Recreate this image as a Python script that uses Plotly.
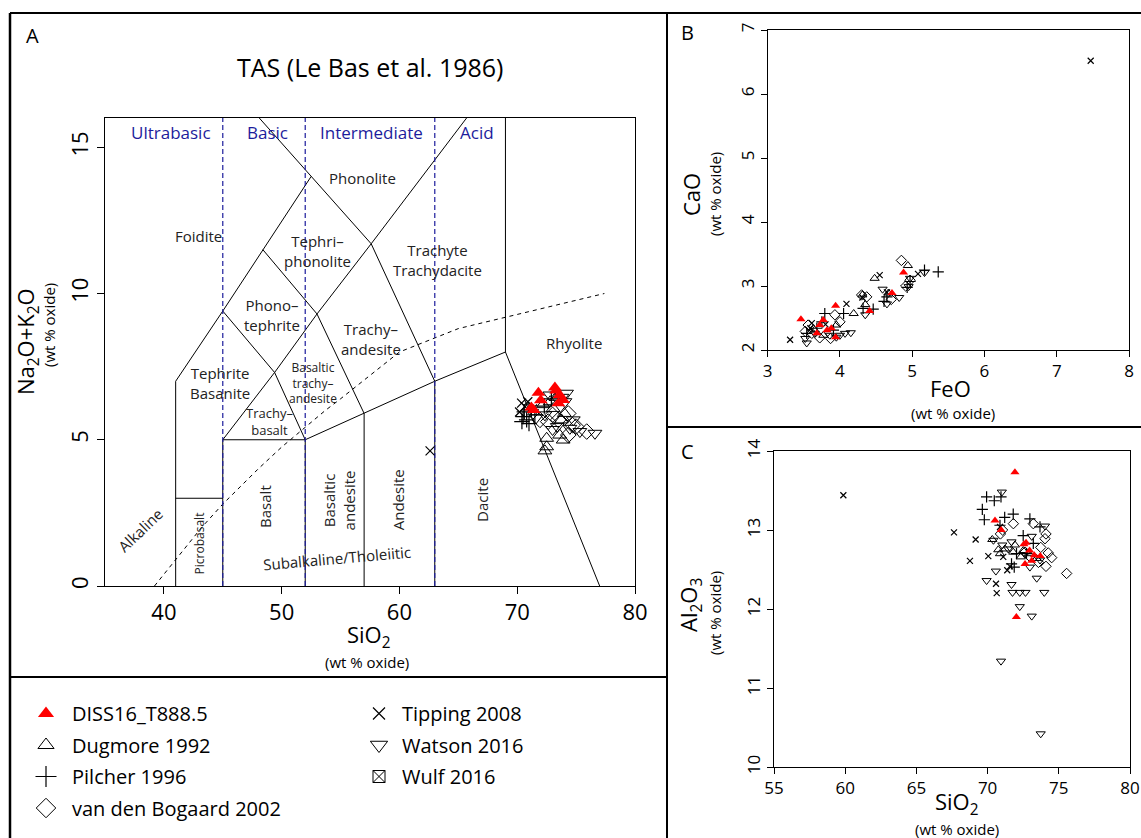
import plotly.graph_objects as go

# ---------------- data ----------------
# Panel A: TAS  (SiO2 vs Na2O+K2O)
diss_tas_si = [71.8, 73.2, 73.3, 73.6, 71.4, 73.9, 73.5, 71.2, 72.0]
diss_tas_alk = [6.61, 6.79, 6.68, 6.53, 6.02, 6.36, 6.25, 6.10, 6.35]
dug_tas_si = [73.6, 72.5, 72.5, 73.9, 72.35, 73.75, 73.05, 72.8, 73.3, 74.0, 72.2]
dug_tas_alk = [5.16, 5.05, 4.76, 4.99, 4.62, 5.68, 6.07, 6.30, 6.45, 5.90, 6.20]
pil_tas_si = [70.5, 70.8, 71.2, 70.6, 71.0, 72.3, 72.9, 71.5, 70.4]
pil_tas_alk = [5.79, 5.68, 6.02, 5.95, 5.55, 6.15, 6.40, 5.85, 5.62]
vdb_tas_si = [75.9, 75.0, 74.33, 72.63, 71.93, 73.48, 74.33, 73.0, 74.7]
vdb_tas_alk = [5.28, 5.45, 5.16, 5.62, 5.68, 5.68, 5.90, 5.85, 5.50]
tip_tas_si = [70.37, 70.65, 70.2, 70.9, 71.3, 62.6]
tip_tas_alk = [6.25, 6.13, 5.95, 6.30, 6.05, 4.62]
wat_tas_si = [76.6, 75.32, 74.47, 74.19, 74.05, 72.77, 74.76, 72.35, 73.4, 73.8, 71.6, 73.0]
wat_tas_alk = [5.22, 5.28, 5.39, 6.59, 6.30, 6.53, 5.68, 5.85, 5.45, 6.45, 5.75, 5.35]

# Panel B: FeO vs CaO
diss_feo = [3.46, 3.94, 4.88, 4.72, 4.41, 3.94, 3.82, 3.72, 3.68, 3.88, 3.77]
diss_cao = [2.48, 2.69, 3.21, 2.89, 2.61, 2.20, 2.31, 2.39, 2.26, 2.34, 2.47]
dug_feo = [4.48, 4.94, 4.19, 4.35, 4.31, 4.67, 3.65, 3.77, 3.95]
dug_cao = [3.12, 3.32, 2.57, 2.71, 2.86, 2.89, 2.31, 2.23, 2.39]
pil_feo = [5.36, 5.17, 4.97, 4.93, 4.46, 4.32, 4.05, 3.79, 3.75, 3.68, 4.65, 4.61, 3.54, 3.91]
pil_cao = [3.22, 3.25, 3.07, 2.98, 2.64, 2.65, 2.57, 2.57, 2.44, 2.34, 2.83, 2.76, 2.26, 2.31]
vdb_feo = [4.85, 4.30, 4.37, 3.93, 3.56, 3.52, 3.72, 3.87, 4.00, 4.71, 4.91, 4.97, 3.61]
vdb_cao = [3.40, 2.86, 2.83, 2.55, 2.39, 2.29, 2.19, 2.18, 2.44, 2.79, 3.00, 3.09, 2.26]
tip_feo = [7.47, 3.31, 4.09, 4.55, 4.31, 3.61, 5.08, 4.65, 3.59, 3.80]
tip_cao = [6.52, 2.16, 2.72, 3.17, 2.82, 2.42, 3.19, 2.90, 2.34, 2.40]
wat_feo = [3.54, 3.52, 4.15, 4.07, 4.00, 4.35, 4.59, 4.65, 4.82, 4.97, 4.95, 5.17, 3.65, 3.86, 3.95]
wat_cao = [2.11, 2.18, 2.27, 2.26, 2.23, 2.55, 2.95, 2.72, 2.82, 3.12, 2.99, 3.21, 2.26, 2.23, 2.20]

# Panel C: SiO2 vs Al2O3
diss_si = [71.92, 70.52, 70.95, 72.55, 72.70, 72.95, 73.28, 73.70, 73.10, 72.63, 72.02]
diss_al = [13.73, 13.12, 13.00, 12.82, 12.84, 12.74, 12.68, 12.67, 12.61, 12.57, 11.90]
dug_si = [70.33, 70.75, 70.87, 71.22, 71.80, 72.50, 72.90, 73.44, 72.33, 71.92]
dug_al = [12.88, 12.75, 12.70, 12.76, 12.72, 12.74, 12.70, 12.64, 12.66, 12.81]
pil_si = [69.93, 70.47, 70.94, 69.63, 69.77, 71.20, 71.80, 72.97, 72.50, 73.68, 73.21, 71.87, 71.68, 70.87, 72.73, 72.03]
pil_al = [13.42, 13.37, 13.42, 13.26, 13.13, 13.16, 13.20, 13.14, 12.93, 13.04, 12.83, 12.53, 12.57, 13.06, 12.70, 12.70]
vdb_si = [71.81, 73.21, 74.10, 74.03, 73.73, 74.26, 74.50, 74.10, 75.55, 71.05, 70.90, 72.98, 73.57, 72.63]
vdb_al = [13.08, 13.08, 12.95, 12.89, 12.78, 12.71, 12.65, 12.54, 12.45, 13.00, 12.95, 12.66, 12.59, 12.72]
tip_si = [59.87, 67.64, 69.16, 68.76, 70.05, 70.59, 70.64, 71.10, 71.57, 71.38, 70.87]
tip_al = [13.44, 12.97, 12.88, 12.61, 12.67, 12.32, 12.20, 12.66, 12.54, 12.49, 13.04]
wat_si = [71.00, 74.03, 73.10, 71.68, 70.41, 73.68, 72.97, 73.45, 69.93, 70.58, 71.68, 71.75, 72.26,
          72.66, 73.98, 72.26, 73.10, 70.94, 73.73, 71.03, 71.45]
wat_al = [13.48, 13.05, 12.92, 12.85, 12.87, 12.62, 12.53, 12.39, 12.36, 12.48, 12.31, 12.21, 12.21,
          12.21, 12.21, 12.03, 11.91, 11.34, 10.42, 12.81, 12.76]

dataset_names = ["DISS16_T888.5", "Dugmore 1992", "Pilcher 1996", "van den Bogaard 2002",
                 "Tipping 2008", "Watson 2016", "Wulf 2016"]

# TAS field boundaries (Le Bas et al. 1986) as polylines (SiO2, alkali)
tas_lines_x = [
    [41, 41, 45, 48.4, 52.5],
    [48.1, 52.5, 57.6, 63],
    [45, 45, 52, 57, 63, 69, 69],
    [69, 77],
    [41, 45],
    [52, 52],
    [57, 57],
    [63, 63],
    [45, 49.4, 52],
    [45, 49.4, 53, 57],
    [48.4, 53, 57.6],
    [57.6, 65.7],
]
tas_lines_y = [
    [0, 7, 9.4, 11.5, 14],
    [16, 14, 11.7, 7],
    [0, 5, 5, 5.9, 7, 8, 16],
    [8, 0],
    [3, 3],
    [0, 5],
    [0, 5.9],
    [0, 7],
    [5, 7.3, 5],
    [9.4, 7.3, 9.3, 5.9],
    [11.5, 9.3, 11.7],
    [11.7, 16],
]
# Irvine & Baragar (1971) alkaline / subalkaline divide
ib_si = [39.2, 40, 43.2, 45, 48, 50, 53.7, 55, 60, 65, 77.4]
ib_alk = [0, 0.4, 2, 2.8, 4, 4.75, 6, 6.4, 8, 8.8, 10]
# silica class boundaries
silica_bounds = [45, 52, 63]
silica_classes = ["Ultrabasic", "Basic", "Intermediate", "Acid"]
silica_class_pos = [40.6, 48.8, 57.6, 66.55]

# ---------------- layout helpers ----------------
W, H = 1141, 838
FONT = "Open Sans"


def fx(p):
    return p / W


def fy(p):
    return 1 - p / H


styles = {
    "DISS16_T888.5": dict(symbol="triangle-up", color="red", line=dict(width=0)),
    "Dugmore 1992": dict(symbol="triangle-up-open", color="black", line=dict(width=1, color="black")),
    "Pilcher 1996": dict(symbol="cross-thin-open", color="black", line=dict(width=1.2, color="black")),
    "van den Bogaard 2002": dict(symbol="diamond-open", color="black", line=dict(width=1, color="black")),
    "Tipping 2008": dict(symbol="x-thin-open", color="black", line=dict(width=1.2, color="black")),
    "Watson 2016": dict(symbol="triangle-down-open", color="black", line=dict(width=1, color="black")),
    "Wulf 2016": dict(symbol="square-x-open", color="black", line=dict(width=1, color="black")),
}
sizeA = {"DISS16_T888.5": 12, "Dugmore 1992": 12, "Pilcher 1996": 11, "van den Bogaard 2002": 12,
         "Tipping 2008": 9, "Watson 2016": 12, "Wulf 2016": 10}
sizeBC = {"DISS16_T888.5": 8, "Dugmore 1992": 8, "Pilcher 1996": 8, "van den Bogaard 2002": 8,
          "Tipping 2008": 6, "Watson 2016": 8, "Wulf 2016": 7}
legend_size = {"DISS16_T888.5": 14, "Dugmore 1992": 14, "Pilcher 1996": 15, "van den Bogaard 2002": 15,
               "Tipping 2008": 12, "Watson 2016": 15, "Wulf 2016": 12}

fig = go.Figure()

# ---- TAS diagram lines ----
for xs, ys in zip(tas_lines_x, tas_lines_y):
    fig.add_trace(go.Scatter(x=xs, y=ys, mode="lines", line=dict(color="black", width=1),
                             showlegend=False, hoverinfo="skip", xaxis="x", yaxis="y"))
fig.add_trace(go.Scatter(x=ib_si, y=ib_alk, mode="lines", line=dict(color="black", width=1, dash="4px,4px"),
                         showlegend=False, hoverinfo="skip", xaxis="x", yaxis="y"))
for b in silica_bounds:
    fig.add_trace(go.Scatter(x=[b, b], y=[0, 16], mode="lines",
                             line=dict(color="#1c1c9c", width=1.2, dash="5px,3px"),
                             showlegend=False, hoverinfo="skip", xaxis="x", yaxis="y"))

# ---- data points ----
panelA = {
    "DISS16_T888.5": (diss_tas_si, diss_tas_alk),
    "Dugmore 1992": (dug_tas_si, dug_tas_alk),
    "Pilcher 1996": (pil_tas_si, pil_tas_alk),
    "van den Bogaard 2002": (vdb_tas_si, vdb_tas_alk),
    "Tipping 2008": (tip_tas_si, tip_tas_alk),
    "Watson 2016": (wat_tas_si, wat_tas_alk),
}
panelB = {
    "DISS16_T888.5": (diss_feo, diss_cao),
    "Dugmore 1992": (dug_feo, dug_cao),
    "Pilcher 1996": (pil_feo, pil_cao),
    "van den Bogaard 2002": (vdb_feo, vdb_cao),
    "Tipping 2008": (tip_feo, tip_cao),
    "Watson 2016": (wat_feo, wat_cao),
}
panelC = {
    "DISS16_T888.5": (diss_si, diss_al),
    "Dugmore 1992": (dug_si, dug_al),
    "Pilcher 1996": (pil_si, pil_al),
    "van den Bogaard 2002": (vdb_si, vdb_al),
    "Tipping 2008": (tip_si, tip_al),
    "Watson 2016": (wat_si, wat_al),
}
order = ["Tipping 2008", "Pilcher 1996", "Dugmore 1992", "van den Bogaard 2002", "Watson 2016", "DISS16_T888.5"]
for panel, ax, sizes in [(panelA, ("x", "y"), sizeA), (panelB, ("x2", "y2"), sizeBC), (panelC, ("x3", "y3"), sizeBC)]:
    for name in order:
        xs, ys = panel[name]
        st = styles[name]
        fig.add_trace(go.Scatter(
            x=xs, y=ys, mode="markers", name=name, showlegend=False,
            marker=dict(symbol=st["symbol"], color=st["color"], size=sizes[name], line=st["line"]),
            xaxis=ax[0], yaxis=ax[1]))

# ---- legend-only entries ----
for i, name in enumerate(dataset_names):
    st = styles[name]
    fig.add_trace(go.Scatter(
        x=[None], y=[None], mode="markers", name=name, legendgroup=name,
        legend="legend" if i < 4 else "legend2",
        marker=dict(symbol=st["symbol"], color=st["color"], size=legend_size[name], line=st["line"]),
        xaxis="x", yaxis="y"))

# ---- annotations ----
ann = []
blue = "#1c1c9c"
for lab, xp in zip(silica_classes, silica_class_pos):
    ann.append(dict(x=xp, y=15.52, xref="x", yref="y", text=lab, showarrow=False,
                    font=dict(family=FONT, size=17, color=blue)))

fields = [
    ("Foidite", 42.9, 11.97, 15, 0),
    ("Phonolite", 56.9, 13.96, 15, 0),
    ("Tephri–<br>phonolite", 53.0, 11.45, 15, 0),
    ("Trachyte<br>Trachydacite", 63.2, 11.15, 15, 0),
    ("Phono–<br>tephrite", 49.15, 9.26, 15, 0),
    ("Trachy–<br>andesite", 57.55, 8.45, 15, 0),
    ("Rhyolite", 74.8, 8.31, 15, 0),
    ("Tephrite<br>Basanite", 44.8, 6.93, 15, 0),
    ("Basaltic<br>trachy–<br>andesite", 52.7, 6.94, 12, 0),
    ("Trachy–<br>basalt", 49.0, 5.62, 13, 0),
    ("Picrobasalt", 43.05, 1.45, 12, -90),
    ("Basalt", 48.6, 2.71, 15, -90),
    ("Basaltic<br>andesite", 54.9, 2.94, 15, -90),
    ("Andesite", 59.9, 2.94, 15, -90),
    ("Dacite", 67.0, 2.94, 15, -90),
    ("Subalkaline/Tholeiitic", 54.7, 0.95, 15, -5),
    ("Alkaline", 38.0, 1.91, 15, -44),
]
for t, xp, yp, fs, ang in fields:
    ann.append(dict(x=xp, y=yp, xref="x", yref="y", text=t, showarrow=False, textangle=ang,
                    font=dict(family=FONT, size=fs, color="#222222")))


def pa(text, xp, yp, size, angle=0):
    return dict(x=fx(xp), y=fy(yp), xref="paper", yref="paper", text=text, showarrow=False,
                textangle=angle, xanchor="center", yanchor="middle",
                font=dict(family=FONT, size=size, color="black"))


ann += [
    pa("TAS (Le Bas et al. 1986)", 370, 67, 25),
    pa("A", 32, 35, 20),
    pa("B", 687, 33, 20),
    pa("C", 687, 451, 20),
    pa("Na<sub>2</sub>O+K<sub>2</sub>O", 27, 342, 22, -90),
    pa("(wt % oxide)", 49, 325, 15, -90),
    pa("SiO<sub>2</sub>", 369, 636, 22),
    pa("(wt % oxide)", 367, 662, 15),
    pa("CaO", 691, 195, 22, -90),
    pa("(wt % oxide)", 715, 194, 15, -90),
    pa("FeO", 950, 388, 22),
    pa("(wt % oxide)", 953, 413, 15),
    pa("Al<sub>2</sub>O<sub>3</sub>", 690, 605, 22, -90),
    pa("(wt % oxide)", 715, 613, 15, -90),
    pa("SiO<sub>2</sub>", 957, 803, 22),
    pa("(wt % oxide)", 957, 829, 15),
]

# ---- panel divider lines ----
shapes = []


def pline(x0, y0, x1, y1, w=2):
    shapes.append(dict(type="line", xref="paper", yref="paper", x0=fx(x0), y0=fy(y0), x1=fx(x1), y1=fy(y1),
                       line=dict(color="black", width=w)))


pline(10, 13, 10, 838, 2.5)
pline(10, 13, 1141, 13, 2)
pline(667, 13, 667, 838, 2)
pline(10, 677, 667, 677, 2)
pline(667, 427, 1141, 427, 2)

axis_common = dict(showgrid=False, zeroline=False, showline=True, mirror=True, linecolor="black",
                   linewidth=1, ticks="outside", tickcolor="black", tickwidth=1, automargin=False)

fig.update_layout(
    width=W, height=H, margin=dict(l=0, r=0, t=0, b=0, pad=0, autoexpand=False),
    paper_bgcolor="white", plot_bgcolor="white",
    font=dict(family=FONT, color="black"),
    xaxis=dict(domain=[fx(105), fx(635)], range=[35, 80], tickvals=[40, 50, 60, 70, 80], anchor="y",
               ticklen=7, tickfont=dict(size=22), **axis_common),
    yaxis=dict(domain=[fy(586), fy(118)], range=[0, 16], tickvals=[0, 5, 10, 15], anchor="x",
               ticklen=7, tickangle=-90, tickfont=dict(size=22), **axis_common),
    xaxis2=dict(domain=[fx(767.7), fx(1129)], range=[3, 8], tickvals=[3, 4, 5, 6, 7, 8], anchor="y2",
                ticklen=6, tickfont=dict(size=17), **axis_common),
    yaxis2=dict(domain=[fy(350), fy(30)], range=[2, 7], tickvals=[2, 3, 4, 5, 6, 7], anchor="x2",
                ticklen=6, tickangle=-90, tickfont=dict(size=17), **axis_common),
    xaxis3=dict(domain=[fx(774), fx(1130)], range=[55, 80], tickvals=[55, 60, 65, 70, 75, 80], anchor="y3",
                ticklen=6, tickfont=dict(size=17), **axis_common),
    yaxis3=dict(domain=[fy(767), fy(451)], range=[10, 14], tickvals=[10, 11, 12, 13, 14], anchor="x3",
                ticklen=6, tickangle=-90, tickfont=dict(size=17), **axis_common),
    legend=dict(x=fx(20), y=fy(694), xanchor="left", yanchor="top", bgcolor="rgba(0,0,0,0)",
                font=dict(family=FONT, size=20, color="black"), traceorder="grouped", tracegroupgap=2.5,
                itemsizing="trace", itemwidth=42),
    legend2=dict(x=fx(356), y=fy(694), xanchor="left", yanchor="top", bgcolor="rgba(0,0,0,0)",
                 font=dict(family=FONT, size=20, color="black"), traceorder="grouped", tracegroupgap=2.5,
                 itemsizing="trace", itemwidth=36),
    annotations=ann,
    shapes=shapes,
)

fig.write_html("out.html", config={"displayModeBar": False})
